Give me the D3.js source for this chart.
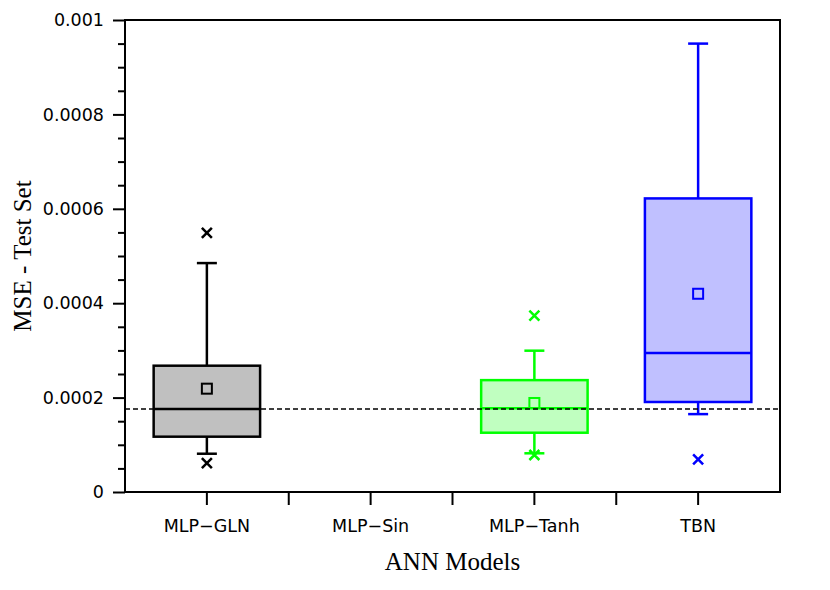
<!DOCTYPE html>
<html>
<head>
<meta charset="utf-8">
<script src="https://cdn.jsdelivr.net/npm/d3@7"></script>
<style>
  body { margin: 0; background: #fff; }
</style>
</head>
<body>
<div id="chart"></div>
<script>
// Box plot of test-set MSE per ANN model
var categories  = ["MLP\u2212GLN", "MLP\u2212Sin", "MLP\u2212Tanh", "TBN"];
var q1          = [0.0001172, null, 0.0001256, 0.0001907];
var median      = [0.0001758, null, 0.0001773, 0.0002945];
var q3          = [0.0002676, null, 0.000237,  0.000622];
var whiskerLow  = [0.0000811, null, 0.000082,  0.000165];
var whiskerHigh = [0.000485,  null, 0.0002994, 0.00095];
var means       = [0.0002189, null, 0.0001886, 0.00042];
var outlierHigh = [0.000549,  null, 0.0003735, null];
var outlierLow  = [0.0000614, null, 0.0000784, 0.0000693];
var refLine     = 0.000176;
var yMajorTicks = [0, 0.0002, 0.0004, 0.0006, 0.0008, 0.001];
var yMinorTicks = [0.00005, 0.0001, 0.00015, 0.00025, 0.0003, 0.00035, 0.00045, 0.0005, 0.00055,
                   0.00065, 0.0007, 0.00075, 0.00085, 0.0009, 0.00095];
var strokeColors = ["#000000", "#000000", "#00ff00", "#0000ff"];
var fillColors   = ["#c0c0c0", "#c0c0c0", "#c0ffc0", "#c0c0ff"];

var totalW = 830, totalH = 590;
var margin = { top: 20, right: 50, bottom: 98, left: 125 };
var width  = totalW - margin.left - margin.right;
var height = totalH - margin.top - margin.bottom;

var tickFont  = "'DejaVu Sans', sans-serif";
var titleFont = "'Liberation Serif', 'Times New Roman', serif";

var svg = d3.select("#chart").append("svg")
    .attr("width", totalW)
    .attr("height", totalH);

var g = svg.append("g")
    .attr("transform", "translate(" + margin.left + "," + margin.top + ")");

// --- Scales ---
var x = d3.scaleBand().domain(categories).range([0, width]).padding(0);
var y = d3.scaleLinear().domain([0, 0.001]).range([height, 0]);

var boxW = x.bandwidth() * 0.65;
var capW = 20;

// --- Boxes ---
categories.forEach(function(c, i) {
    if (q1[i] == null) return;
    var cx = x(c) + x.bandwidth() / 2;
    var sc = strokeColors[i], fc = fillColors[i];
    var bg = g.append("g").attr("class", "box");

    // whiskers
    bg.append("line")
        .attr("x1", cx).attr("x2", cx)
        .attr("y1", y(q3[i])).attr("y2", y(whiskerHigh[i]))
        .attr("stroke", sc).attr("stroke-width", 2.5);
    bg.append("line")
        .attr("x1", cx).attr("x2", cx)
        .attr("y1", y(q1[i])).attr("y2", y(whiskerLow[i]))
        .attr("stroke", sc).attr("stroke-width", 2.5);
    [whiskerHigh[i], whiskerLow[i]].forEach(function(v) {
        bg.append("line")
            .attr("x1", cx - capW / 2).attr("x2", cx + capW / 2)
            .attr("y1", y(v)).attr("y2", y(v))
            .attr("stroke", sc).attr("stroke-width", 2.5);
    });

    // box
    bg.append("rect")
        .attr("x", cx - boxW / 2)
        .attr("y", y(q3[i]))
        .attr("width", boxW)
        .attr("height", y(q1[i]) - y(q3[i]))
        .attr("fill", fc)
        .attr("stroke", sc)
        .attr("stroke-width", 2.5);

    // median
    bg.append("line")
        .attr("x1", cx - boxW / 2).attr("x2", cx + boxW / 2)
        .attr("y1", y(median[i])).attr("y2", y(median[i]))
        .attr("stroke", sc).attr("stroke-width", 2.5);

    // mean marker
    bg.append("rect")
        .attr("x", cx - 5).attr("y", y(means[i]) - 5)
        .attr("width", 10).attr("height", 10)
        .attr("fill", fc)
        .attr("stroke", sc)
        .attr("stroke-width", 2);

    // outliers
    [outlierHigh[i], outlierLow[i]].forEach(function(v) {
        if (v == null) return;
        var oy = y(v), s = 5;
        bg.append("path")
            .attr("d", "M" + (cx - s) + "," + (oy - s) + "L" + (cx + s) + "," + (oy + s) +
                       "M" + (cx - s) + "," + (oy + s) + "L" + (cx + s) + "," + (oy - s))
            .attr("stroke", sc)
            .attr("stroke-width", 2.5)
            .attr("fill", "none");
    });
});

// --- Reference line ---
g.append("line")
    .attr("x1", 0).attr("x2", width)
    .attr("y1", y(refLine)).attr("y2", y(refLine))
    .attr("stroke", "#000")
    .attr("stroke-width", 1.5)
    .attr("stroke-dasharray", "5,3");

// --- Y axis ---
var yAxisG = g.append("g")
    .call(d3.axisLeft(y)
        .tickValues(yMajorTicks)
        .tickSize(12)
        .tickPadding(9)
        .tickFormat(function(d) { return d === 0 ? "0" : d3.format(".4~f")(d); }));
yAxisG.select(".domain").remove();
yAxisG.selectAll("line").attr("stroke", "#000").attr("stroke-width", 2);
yAxisG.selectAll("text")
    .style("font-family", tickFont)
    .style("font-size", "17.5px")
    .style("fill", "#000");

var yMinorG = g.append("g")
    .call(d3.axisLeft(y).tickValues(yMinorTicks).tickSize(7).tickFormat(""));
yMinorG.select(".domain").remove();
yMinorG.selectAll("line").attr("stroke", "#000").attr("stroke-width", 2);

// --- X axis ---
var xAxisG = g.append("g")
    .attr("transform", "translate(0," + height + ")")
    .call(d3.axisBottom(x).tickSize(13).tickPadding(15));
xAxisG.select(".domain").remove();
xAxisG.selectAll("line").attr("stroke", "#000").attr("stroke-width", 2);
xAxisG.selectAll("text")
    .style("font-family", tickFont)
    .style("font-size", "17.5px")
    .style("fill", "#000");

// boundary ticks between categories
g.append("g")
    .selectAll("line")
    .data(categories.slice(1))
    .enter().append("line")
    .attr("x1", function(d) { return x(d); })
    .attr("x2", function(d) { return x(d); })
    .attr("y1", height).attr("y2", height + 13)
    .attr("stroke", "#000").attr("stroke-width", 2);

// --- Frame ---
g.append("rect")
    .attr("x", 0).attr("y", 0)
    .attr("width", width).attr("height", height)
    .attr("fill", "none")
    .attr("stroke", "#000")
    .attr("stroke-width", 2);

// --- Axis titles ---
svg.append("text")
    .attr("x", margin.left + width / 2)
    .attr("y", 570)
    .attr("text-anchor", "middle")
    .style("font-family", titleFont)
    .style("font-size", "25px")
    .text("ANN Models");

svg.append("text")
    .attr("transform", "translate(31," + (margin.top + height / 2) + ") rotate(-90)")
    .attr("text-anchor", "middle")
    .style("font-family", titleFont)
    .style("font-size", "25px")
    .text("MSE - Test Set");
</script>
</body>
</html>
